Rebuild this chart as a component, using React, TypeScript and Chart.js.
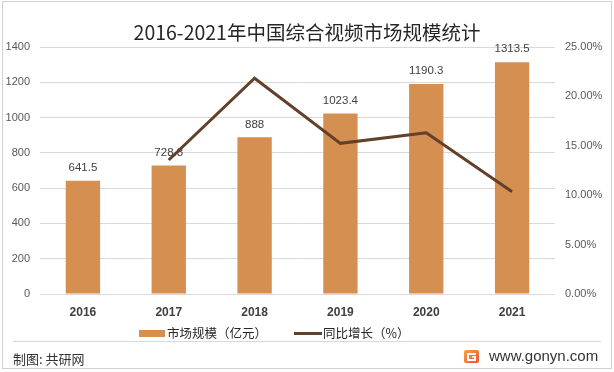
import React, { useEffect, useRef } from "react";
import { Chart, registerables } from "chart.js";

Chart.register(...registerables);

const title = "2016-2021年中国综合视频市场规模统计";
const categories = ["2016", "2017", "2018", "2019", "2020", "2021"];
const marketSize = [641.5, 728.8, 888, 1023.4, 1190.3, 1313.5];
const growthRate = [null, 13.56, 21.84, 15.25, 16.31, 10.35];
const seriesNames = ["市场规模（亿元）", "同比增长（%）"];
const leftAxis = { min: 0, max: 1400, step: 200 };
const rightAxis = { min: 0, max: 25, step: 5 };
const sourceText = "制图: 共研网";
const siteText = "www.gonyn.com";

const BAR_COLOR = "#D48F51";
const LINE_COLOR = "#62402A";
const CJK = '"Noto Sans CJK SC", "Liberation Sans", sans-serif';
const LATIN = '"Liberation Sans", Arial, sans-serif';

export default function App() {
  const ref = useRef<HTMLCanvasElement | null>(null);

  useEffect(() => {
    if (!ref.current) return;

    const titlePlugin = {
      id: "titleDraw",
      afterDraw(chart: any) {
        const ctx = chart.ctx;
        ctx.save();
        ctx.font = `19.5px ${CJK}`;
        ctx.fillStyle = "#262626";
        ctx.textAlign = "center";
        ctx.textBaseline = "middle";
        ctx.fillText(title, 307, 33);
        ctx.restore();
      },
    };

    const barLabels = {
      id: "barLabels",
      afterDatasetDraw(chart: any, args: any) {
        if (args.index !== 0) return;
        const ctx = chart.ctx;
        const meta = chart.getDatasetMeta(0);
        ctx.save();
        ctx.font = `11.5px ${LATIN}`;
        ctx.fillStyle = "#404040";
        ctx.textAlign = "center";
        ctx.textBaseline = "middle";
        meta.data.forEach((bar: any, i: number) => {
          ctx.fillText(String(marketSize[i]), bar.x, bar.y - 13);
        });
        ctx.restore();
      },
    };

    const legendPlugin = {
      id: "legendDraw",
      afterDraw(chart: any) {
        const ctx = chart.ctx;
        ctx.save();
        const y = 333.5;
        ctx.fillStyle = BAR_COLOR;
        ctx.fillRect(139, y - 3.5, 26, 7);
        ctx.font = `12.5px ${CJK}`;
        ctx.fillStyle = "#262626";
        ctx.textAlign = "left";
        ctx.textBaseline = "middle";
        ctx.fillText(seriesNames[0], 167, y);
        ctx.strokeStyle = LINE_COLOR;
        ctx.lineWidth = 3;
        ctx.beginPath();
        ctx.moveTo(294, y);
        ctx.lineTo(322, y);
        ctx.stroke();
        ctx.fillText(seriesNames[1], 323, y);
        ctx.restore();
      },
    };

    const chart = new Chart(ref.current, {
      type: "bar",
      data: {
        labels: categories,
        datasets: [
          {
            type: "bar",
            label: seriesNames[0],
            data: marketSize,
            backgroundColor: BAR_COLOR,
            yAxisID: "y",
            order: 2,
            barPercentage: 0.4,
            categoryPercentage: 1,
          } as any,
          {
            type: "line",
            label: seriesNames[1],
            data: growthRate,
            borderColor: LINE_COLOR,
            backgroundColor: LINE_COLOR,
            borderWidth: 3,
            pointRadius: 0,
            tension: 0,
            yAxisID: "y1",
            order: 1,
          } as any,
        ],
      },
      options: {
        responsive: false,
        animation: false,
        layout: { padding: { top: 47, bottom: 53, left: 0, right: 0 } },
        plugins: {
          legend: { display: false },
          title: { display: false },
          tooltip: { enabled: false },
        },
        scales: {
          x: {
            grid: { display: false, drawTicks: false, tickLength: 0 },
            border: { display: false },
            ticks: {
              color: "#404040",
              font: { family: LATIN, size: 12, weight: "bold" },
              padding: 11,
              maxRotation: 0,
            },
            afterFit(scale: any) {
              scale.height = 25;
            },
          },
          y: {
            position: "left",
            min: leftAxis.min,
            max: leftAxis.max,
            ticks: {
              stepSize: leftAxis.step,
              color: "#595959",
              font: { family: LATIN, size: 11 },
              padding: 10,
              callback: (v: any) => String(v),
            },
            grid: { color: "#D9D9D9", drawTicks: false },
            border: { display: false },
            afterFit(scale: any) {
              scale.width = 40;
            },
          },
          y1: {
            position: "right",
            min: rightAxis.min,
            max: rightAxis.max,
            ticks: {
              stepSize: rightAxis.step,
              color: "#595959",
              font: { family: LATIN, size: 11 },
              padding: 10,
              callback: (v: any) => Number(v).toFixed(2) + "%",
            },
            grid: { display: false, drawTicks: false },
            border: { display: false },
            afterFit(scale: any) {
              scale.width = 59;
            },
          },
        },
      } as any,
      plugins: [barLabels, titlePlugin, legendPlugin],
    });

    return () => chart.destroy();
  }, []);

  return (
    <div
      style={{
        position: "fixed",
        left: 0,
        top: 0,
        width: 614,
        height: 372,
        background: "#fff",
        overflow: "hidden",
      }}
    >
      <canvas ref={ref} width={614} height={372} style={{ position: "absolute", left: 0, top: 0 }} />
      <div
        style={{
          position: "absolute",
          left: 2,
          top: 1,
          width: 608,
          height: 366,
          border: "1px solid #D0D0D0",
          pointerEvents: "none",
        }}
      />
      <div style={{ position: "absolute", left: 13, top: 341, width: 588, height: 1, background: "#D9D9D9" }} />
      <div
        style={{
          position: "absolute",
          left: 13,
          top: 350,
          fontFamily: CJK,
          fontSize: 13,
          lineHeight: "18px",
          color: "#333",
          whiteSpace: "nowrap",
        }}
      >
        {sourceText}
      </div>
      <svg style={{ position: "absolute", left: 464, top: 350 }} width="15" height="13" viewBox="0 0 15 13">
        <defs>
          <linearGradient id="lg" x1="0" y1="0" x2="1" y2="1">
            <stop offset="0" stopColor="#F7A24A" />
            <stop offset="1" stopColor="#E8542C" />
          </linearGradient>
        </defs>
        <rect x="0" y="0" width="15" height="13" rx="2" fill="url(#lg)" />
        <path d="M3 3 H12 V5 H5 V9 H10 V7.5 H8 V6 H12 V11 H3 Z" fill="#fff" />
      </svg>
      <div
        style={{
          position: "absolute",
          left: 489,
          top: 347,
          fontFamily: LATIN,
          fontSize: 15,
          lineHeight: "18px",
          color: "#333",
          whiteSpace: "nowrap",
        }}
      >
        {siteText}
      </div>
    </div>
  );
}
